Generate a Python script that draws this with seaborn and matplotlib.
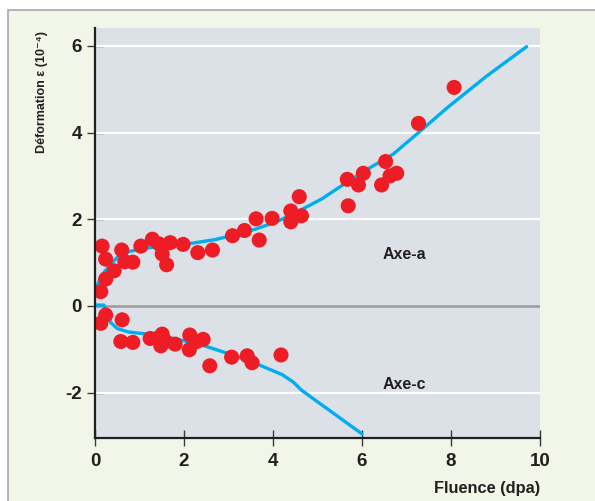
import matplotlib
matplotlib.use("Agg")
import matplotlib.pyplot as plt
from matplotlib.patches import Rectangle
import seaborn as sns
import pandas as pd

# ---- data ----
axe_a_x = [0.16, 0.24, 0.60, 0.43, 0.24, 0.13, 0.67, 0.85, 1.03, 1.29, 1.44, 1.69, 1.51, 1.61,
           1.98, 2.31, 2.64, 3.09, 3.36, 3.62, 3.69, 3.98, 4.40, 4.40, 4.64, 4.59, 5.69, 5.67,
           5.92, 6.03, 6.44, 6.53, 6.63, 6.78, 7.27, 8.07]
axe_a_y = [1.38, 1.08, 1.29, 0.81, 0.62, 0.33, 1.02, 1.01, 1.38, 1.54, 1.43, 1.46, 1.20, 0.95,
           1.42, 1.23, 1.29, 1.62, 1.74, 2.01, 1.52, 2.02, 2.19, 1.94, 2.08, 2.52, 2.31, 2.92,
           2.79, 3.06, 2.79, 3.33, 3.00, 3.06, 4.21, 5.04]

axe_c_x = [0.24, 0.13, 0.61, 0.58, 0.85, 1.24, 1.39, 1.51, 1.48, 1.59, 1.80, 2.13, 2.12, 2.28,
           2.43, 2.58, 3.07, 3.42, 3.53, 4.18]
axe_c_y = [-0.21, -0.40, -0.32, -0.82, -0.84, -0.75, -0.75, -0.65, -0.92, -0.82, -0.88, -0.67,
           -1.01, -0.82, -0.77, -1.38, -1.18, -1.15, -1.31, -1.13]

curve_a_x = [0.0, 0.05, 0.15, 0.30, 0.50, 0.75, 1.0, 1.5, 2.2, 2.7, 3.1, 3.6, 4.1, 4.6, 5.1,
             5.7, 6.2, 6.7, 7.25, 7.95, 8.8, 9.7]
curve_a_y = [0.30, 0.48, 0.70, 0.90, 1.12, 1.25, 1.31, 1.38, 1.45, 1.53, 1.63, 1.77, 1.95, 2.20,
             2.47, 2.88, 3.20, 3.50, 3.98, 4.60, 5.30, 5.98]

curve_c_x = [0.0, 0.20, 0.26, 0.35, 0.50, 0.75, 1.1, 1.5, 1.9, 2.4, 3.0, 3.5, 3.9, 4.2, 4.45,
             4.65, 6.0]
curve_c_y = [0.02, 0.02, -0.15, -0.38, -0.52, -0.60, -0.64, -0.70, -0.78, -0.90, -1.10, -1.28,
             -1.45, -1.58, -1.75, -1.95, -2.95]

x_ticks = [0, 2, 4, 6, 8, 10]
y_ticks = [-2, 0, 2, 4, 6]
labels = ["Axe-a", "Axe-c"]

# ---- style ----
sns.set_theme(style="white")
plt.rcParams['font.family'] = ['Liberation Sans', 'DejaVu Sans']

RED = "#EE1C25"
BLUE = "#00AEEF"
PANEL = "#DBE1E7"
FRAME = "#F1F6E9"

fig = plt.figure(figsize=(5.95, 5.01), dpi=100, facecolor="white")
fig.patches.append(Rectangle((8 / 595, -0.01), 1.0, 1 - 10 / 501 + 0.01,
                             transform=fig.transFigure, facecolor=FRAME,
                             edgecolor="#A3A9AD", linewidth=1.2, zorder=-5))

ax = fig.add_axes([95 / 595, 1 - 438 / 501, 445 / 595, 410 / 501])
ax.set_zorder(2)
ax.set_facecolor(PANEL)

ax.set_xlim(0, 10)
ax.set_ylim(-3.045, 6.41)

# grid lines
for yv in y_ticks:
    if yv == 0:
        ax.axhline(0, color="#9B9B9B", lw=1.8, zorder=1)
    else:
        ax.axhline(yv, color="white", lw=1.6, zorder=1)

df_ca = pd.DataFrame({"x": curve_a_x, "y": curve_a_y})
df_cc = pd.DataFrame({"x": curve_c_x, "y": curve_c_y})
sns.lineplot(data=df_ca, x="x", y="y", ax=ax, color=BLUE, lw=2.4, sort=False, zorder=2)
sns.lineplot(data=df_cc, x="x", y="y", ax=ax, color=BLUE, lw=2.4, sort=False, zorder=2)

df_a = pd.DataFrame({"x": axe_a_x, "y": axe_a_y})
df_c = pd.DataFrame({"x": axe_c_x, "y": axe_c_y})
sns.scatterplot(data=df_a, x="x", y="y", ax=ax, color=RED, s=118, edgecolor="none", zorder=3)
sns.scatterplot(data=df_c, x="x", y="y", ax=ax, color=RED, s=118, edgecolor="none", zorder=3)

ax.text(6.47, 1.18, labels[0], fontsize=11.5, fontweight="bold", color="#231F20",
        ha="left", va="center")
ax.text(6.47, -1.82, labels[1], fontsize=11.5, fontweight="bold", color="#231F20",
        ha="left", va="center")

# spines and ticks
for s in ["top", "right"]:
    ax.spines[s].set_visible(False)
for s in ["left", "bottom"]:
    ax.spines[s].set_color("#231F20")
    ax.spines[s].set_linewidth(1.6)
    ax.spines[s].set_zorder(4)

ax.set_xticks(x_ticks)
ax.set_yticks(y_ticks)
ax.set_xticklabels([str(v) for v in x_ticks])
ax.set_yticklabels([str(v) for v in y_ticks])
ax.tick_params(axis="both", bottom=True, left=True, direction="inout", length=11, width=1.0,
               color="#3A3A3A", labelsize=13.5, labelcolor="#231F20", pad=5)
ax.tick_params(axis="y", pad=4)
for lab in ax.get_xticklabels() + ax.get_yticklabels():
    lab.set_fontweight("bold")

ax.set_xlabel("")
ax.set_ylabel("")
fig.text(540 / 595, 1 - 488 / 501, "Fluence (dpa)", fontsize=11.8, fontweight="bold",
         color="#231F20", ha="right", va="center")
fig.text(42 / 595, 1 - 92 / 501, "Déformation ε (10⁻⁴)", fontsize=9, fontweight="bold",
         color="#231F20", ha="center", va="center", rotation=90)

fig.savefig("out.png", dpi=100, facecolor="white")
